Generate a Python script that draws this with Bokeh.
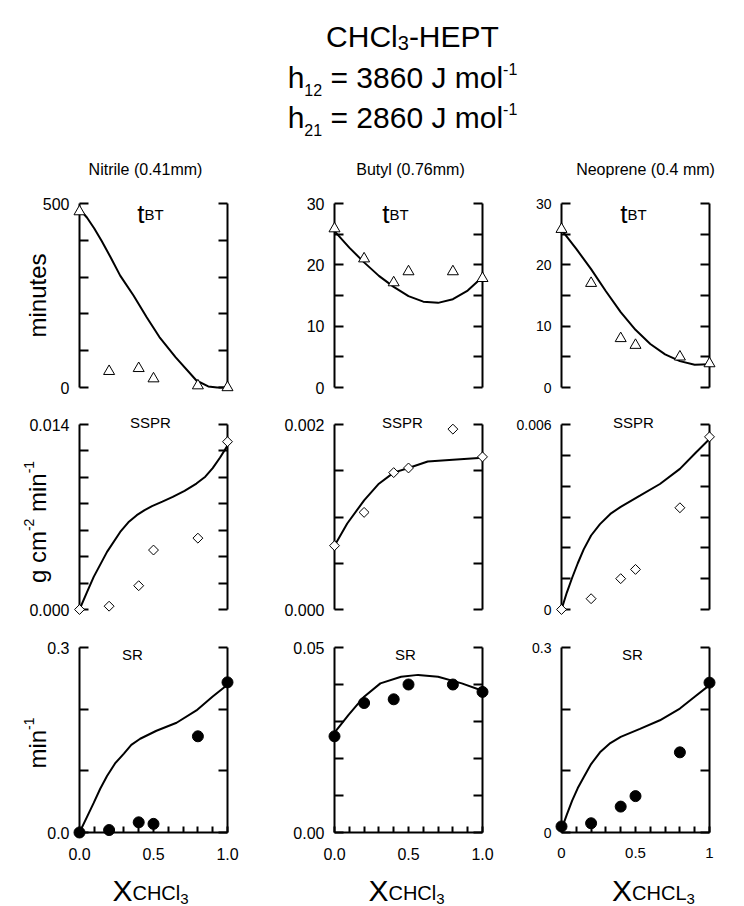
import math
from bokeh.plotting import figure
from bokeh.models import Range1d, LinearAxis, FixedTicker, CustomJSTickFormatter
from bokeh.core.properties import value
from bokeh.layouts import column, row
from bokeh.embed import file_html
from bokeh.resources import INLINE

FONT = "Liberation Sans"

# ---------------- data ----------------
x_exp = [0.0, 0.2, 0.4, 0.5, 0.8, 1.0]

tbt_nitrile = [478, 44, 52, 24, 5, 0]
tbt_butyl = [25.9, 21.0, 17.1, 18.9, 18.9, 17.8]
tbt_neoprene = [25.8, 17.0, 8.0, 6.9, 5.0, 3.9]

sspr_nitrile = [0.0, 0.00025, 0.0018, 0.0045, 0.0054, 0.0127]
sspr_butyl = [0.00069, 0.00105, 0.00148, 0.00153, 0.00195, 0.00165]
sspr_neoprene = [0.0, 0.00035, 0.0010, 0.0013, 0.0033, 0.0056]

sr_nitrile = [0.0, 0.004, 0.0165, 0.014, 0.156, 0.2435]
sr_butyl = [0.026, 0.035, 0.036, 0.040, 0.040, 0.038]
sr_neoprene = [0.0098, 0.015, 0.042, 0.059, 0.130, 0.243]

# model curves
cx_tbt_nitrile = [0, 0.05, 0.1, 0.15, 0.21, 0.275, 0.365, 0.454, 0.54, 0.65, 0.79, 0.87, 0.93, 1.0]
cy_tbt_nitrile = [485, 462, 432, 398, 354, 304, 250, 191, 137, 82, 19, 3, 0, 0]
cx_tbt_butyl = [0, 0.1, 0.2, 0.3, 0.4, 0.5, 0.6, 0.7, 0.8, 0.9, 1.0]
cy_tbt_butyl = [25.5, 22.8, 20.4, 18.2, 16.4, 14.9, 14.0, 13.8, 14.4, 15.8, 18.0]
cx_tbt_neoprene = [0, 0.1, 0.2, 0.3, 0.4, 0.5, 0.6, 0.7, 0.8, 0.9, 1.0]
cy_tbt_neoprene = [25.7, 22.6, 19.3, 15.7, 12.3, 9.4, 7.1, 5.4, 4.3, 3.7, 3.8]

cx_sspr_nitrile = [0, 0.05, 0.096, 0.186, 0.275, 0.33, 0.387, 0.44, 0.49, 0.56, 0.63, 0.71, 0.79, 0.85, 0.9, 0.95, 1.0]
cy_sspr_nitrile = [0, 0.0013, 0.00247, 0.00436, 0.00587, 0.0066, 0.00714, 0.00752, 0.00782, 0.00816, 0.00852, 0.00898, 0.00953, 0.01005, 0.0107, 0.0115, 0.0124]
cx_sspr_butyl = [0, 0.086, 0.2, 0.3, 0.4, 0.5, 0.63, 0.8, 1.0]
cy_sspr_butyl = [0.00069, 0.00093, 0.00118, 0.00136, 0.00148, 0.00153, 0.0016, 0.00162, 0.00164]
cx_sspr_neoprene = [0, 0.036, 0.072, 0.11, 0.15, 0.2, 0.26, 0.33, 0.4, 0.53, 0.665, 0.8, 0.9, 1.0]
cy_sspr_neoprene = [0, 0.00055, 0.00103, 0.0015, 0.00195, 0.0024, 0.00277, 0.0031, 0.00333, 0.00369, 0.00407, 0.00456, 0.00505, 0.00553]

cx_sr_nitrile = [0, 0.05, 0.096, 0.14, 0.186, 0.24, 0.3, 0.35, 0.41, 0.52, 0.656, 0.79, 0.9, 1.0]
cy_sr_nitrile = [0, 0.025, 0.048, 0.071, 0.0915, 0.112, 0.128, 0.142, 0.152, 0.165, 0.178, 0.198, 0.2205, 0.2397]
cx_sr_butyl = [0, 0.095, 0.2, 0.31, 0.45, 0.565, 0.7, 0.86, 1.0]
cy_sr_butyl = [0.027, 0.0318, 0.0367, 0.0403, 0.0421, 0.0426, 0.0421, 0.0403, 0.0383]
cx_sr_neoprene = [0, 0.036, 0.072, 0.11, 0.15, 0.2, 0.26, 0.33, 0.4, 0.53, 0.665, 0.8, 0.9, 1.0]
cy_sr_neoprene = [0.005, 0.029, 0.0516, 0.072, 0.0897, 0.111, 0.130, 0.145, 0.155, 0.168, 0.182, 0.201, 0.220, 0.239]

# ticks
yt_tbt_nitrile = [0, 100, 200, 300, 400, 500]
yl_tbt_nitrile = {0: "0", 500: "500"}
yt_tbt = [0, 5, 10, 15, 20, 25, 30]
yl_tbt = {0: "0", 10: "10", 20: "20", 30: "30"}
yt_sspr_nitrile = [0, 0.002, 0.004, 0.006, 0.008, 0.01, 0.012, 0.014]
yl_sspr_nitrile = {0: "0.000", 0.014: "0.014"}
yt_sspr_butyl = [0, 0.0005, 0.001, 0.0015, 0.002]
yl_sspr_butyl = {0: "0.000", 0.002: "0.002"}
yt_sspr_neoprene = [0, 0.001, 0.002, 0.003, 0.004, 0.005, 0.006]
yl_sspr_neoprene = {0: "0", 0.006: "0.006"}
yt_sr = [0, 0.1, 0.2, 0.3]
yl_sr_nitrile = {0: "0.0", 0.3: "0.3"}
yl_sr_neoprene = {0: "0", 0.3: "0.3"}
yt_sr_butyl = [0, 0.01, 0.02, 0.03, 0.04, 0.05]
yl_sr_butyl = {0: "0.00", 0.05: "0.05"}
xt = [0, 0.1, 0.2, 0.3, 0.4, 0.5, 0.6, 0.7, 0.8, 0.9, 1.0]
xl_a = {0: "0.0", 0.5: "0.5", 1.0: "1.0"}
xl_b = {0: "0", 0.5: "0.5", 1.0: "1"}

title_main = "CHCl"
title_rest = "-HEPT"
h12_text = " = 3860 J mol"
h21_text = " = 2860 J mol"
headers = ["Nitrile (0.41mm)", "Butyl (0.76mm)", "Neoprene (0.4 mm)"]

# --------------- helpers ---------------
WID = {' ': 278, '(': 333, ')': 333, '-': 333, '.': 278, '=': 584,
       'B': 667, 'C': 722, 'E': 667, 'H': 722, 'J': 500, 'L': 556, 'N': 722, 'P': 667,
       'R': 722, 'S': 667, 'T': 611, 'X': 667,
       'a': 556, 'b': 556, 'c': 500, 'e': 556, 'g': 556, 'h': 556, 'i': 222, 'l': 222,
       'm': 833, 'n': 556, 'o': 556, 'p': 556, 'r': 333, 's': 500, 't': 278, 'u': 556, 'y': 500}


def tw(s, size):
    return sum(WID.get(ch, 556) for ch in s) * size / 1000.0


def pieces(p, conv, parts, cx, base, angle=0.0):
    """Draw a run of text pieces. parts: (text, px size, shift); shift>0 lowers, <0 raises.
    conv maps a pixel offset (right, up) from an anchor to data coordinates."""
    total = sum(tw(t, s) for t, s, _ in parts)
    pos = cx - total / 2.0
    for t, s, sh in parts:
        lead = len(t) - len(t.lstrip(" "))
        txt = t.strip(" ")
        start = pos + tw(" " * lead, s)
        if angle == 0:
            xo, yo = start, base - sh
        else:
            xo, yo = base + sh, start
        xd, yd = conv(xo, yo)
        p.text(x=[xd], y=[yd], text=[txt], angle=angle,
               text_font=value(FONT), text_font_size=value(f"{s}px"),
               text_baseline="alphabetic", text_align="left",
               text_color="black", level="overlay")
        pos += tw(t, s)


def fmt(d):
    return CustomJSTickFormatter(
        args=dict(keep=list(d.keys()), txt=list(d.values())),
        code="for (let i = 0; i < keep.length; i++) {"
             " if (Math.abs(tick - keep[i]) < 1e-9) { return txt[i]; } }"
             " return '';")


def style_axis(ax, fs):
    ax.axis_line_width = 2
    ax.axis_line_color = "black"
    ax.major_tick_line_width = 2
    ax.major_tick_line_color = "black"
    ax.major_tick_out = 0
    ax.minor_tick_line_color = None
    ax.major_label_text_font = FONT
    ax.major_label_text_font_size = f"{fs}px"
    ax.major_label_text_color = "black"


COLS = [dict(width=255, left=79, right=28),
        dict(width=255, left=79, right=28),
        dict(width=234, left=51, right=35)]
ROWS = [dict(height=220, top=18, bottom=18),
        dict(height=224, top=19, bottom=20),
        dict(height=277, top=18, bottom=74)]


def panel(r, c, ymax, yticks, ylabels, xs, ys, cxs, cys, kind, title, title_off,
          ylab=None, xlab=None, xlab_off=0, xlabels=None):
    cc, rr = COLS[c], ROWS[r]
    fw = cc["width"] - cc["left"] - cc["right"]
    fh = rr["height"] - rr["top"] - rr["bottom"]
    fs = 16 if c < 2 else 14
    p = figure(width=cc["width"], height=rr["height"],
               min_border_left=cc["left"], min_border_right=cc["right"],
               min_border_top=rr["top"], min_border_bottom=rr["bottom"],
               x_range=Range1d(0, 1), y_range=Range1d(0, ymax),
               x_axis_location=None, y_axis_location=None,
               toolbar_location=None, output_backend="svg")
    p.xgrid.visible = False
    p.ygrid.visible = False
    p.outline_line_color = None
    p.background_fill_color = "white"
    p.border_fill_color = "white"

    yl = LinearAxis(ticker=FixedTicker(ticks=yticks), formatter=fmt(ylabels))
    style_axis(yl, fs)
    yl.major_tick_in = 9
    yl.major_label_standoff = 10
    p.add_layout(yl, "left")
    yr = LinearAxis(ticker=FixedTicker(ticks=yticks), formatter=fmt({}))
    style_axis(yr, 1)
    yr.major_label_text_font_size = "0px"
    yr.major_tick_in = 9
    yr.major_label_standoff = 0
    p.add_layout(yr, "right")

    if xlabels is not None:
        xa = LinearAxis(ticker=FixedTicker(ticks=xt), formatter=fmt(xlabels))
        style_axis(xa, 16 if c < 2 else 15)
        xa.major_tick_in = 6
        xa.major_label_standoff = 15
        p.add_layout(xa, "below")

    p.line(cxs, cys, line_color="black", line_width=2, level="overlay")
    if kind == "tri":
        p.scatter(xs, ys, marker="triangle", size=11, fill_color="white",
                  line_color="black", line_width=1, level="overlay")
    elif kind == "dia":
        p.scatter(xs, ys, marker="square", angle=math.pi / 4, size=7, fill_color="white",
                  line_color="black", line_width=1, level="overlay")
    else:
        p.scatter(xs, ys, marker="circle", size=11, fill_color="black",
                  line_color="black", level="overlay")

    top = lambda xo, yo: (xo / fw, ymax + yo * ymax / fh)
    bot = lambda xo, yo: (xo / fw, yo * ymax / fh)

    if title == "tBT":
        pieces(p, top, [("t", 26, 0), ("BT", 15, 1)], fw / 2 + title_off, -10)
    elif title == "SSPR":
        pieces(p, top, [("SSPR", 15, 0)], fw / 2 + title_off, 2)
    else:
        pieces(p, top, [("SR", 15, 0)], fw / 2 + title_off, -7)

    if ylab is not None:
        pieces(p, bot, ylab[0], fh / 2 + ylab[1], -42, angle=math.pi / 2)
    if xlab is not None:
        pieces(p, bot, [("X", 30, 0), (xlab, 20, 2), ("3", 15, 8)], fw / 2 + xlab_off, -58)
    return p


# --------------- header ---------------
hdr = figure(width=744, height=185, x_range=Range1d(0, 744), y_range=Range1d(0, 185),
             min_border=0, x_axis_location=None, y_axis_location=None,
             toolbar_location=None, output_backend="svg")
hdr.xgrid.visible = False
hdr.ygrid.visible = False
hdr.outline_line_color = None
hconv = lambda xo, yo: (xo, 185 + yo)

pieces(hdr, hconv, [(title_main, 30, 0), ("3", 20, 6), (title_rest, 30, 0)], 412, -36)
pieces(hdr, hconv, [("h", 30, 0), ("12", 16, 12), (h12_text, 30, 0), ("-1", 16, -9)], 402, -77)
pieces(hdr, hconv, [("h", 30, 0), ("21", 16, 12), (h21_text, 30, 0), ("-1", 16, -9)], 402, -117)
for name, cxh in zip(headers, [145, 410, 645]):
    pieces(hdr, hconv, [(name, 16, 0)], cxh, -169)

# --------------- panels ---------------
p11 = panel(0, 0, 500, yt_tbt_nitrile, yl_tbt_nitrile, x_exp, tbt_nitrile,
            cx_tbt_nitrile, cy_tbt_nitrile, "tri", "tBT", -3,
            ylab=([("minutes", 24, 0)], 0))
p12 = panel(0, 1, 30, yt_tbt, yl_tbt, x_exp, tbt_butyl,
            cx_tbt_butyl, cy_tbt_butyl, "tri", "tBT", -13)
p13 = panel(0, 2, 30, yt_tbt, yl_tbt, x_exp, tbt_neoprene,
            cx_tbt_neoprene, cy_tbt_neoprene, "tri", "tBT", -2)

p21 = panel(1, 0, 0.014, yt_sspr_nitrile, yl_sspr_nitrile, x_exp, sspr_nitrile,
            cx_sspr_nitrile, cy_sspr_nitrile, "dia", "SSPR", -3,
            ylab=([("g cm", 24, 0), ("-2", 14, -9), (" min", 24, 0), ("-1", 14, -9)], -5))
p22 = panel(1, 1, 0.002, yt_sspr_butyl, yl_sspr_butyl, x_exp, sspr_butyl,
            cx_sspr_butyl, cy_sspr_butyl, "dia", "SSPR", -6)
p23 = panel(1, 2, 0.006, yt_sspr_neoprene, yl_sspr_neoprene, x_exp, sspr_neoprene,
            cx_sspr_neoprene, cy_sspr_neoprene, "dia", "SSPR", -2)

p31 = panel(2, 0, 0.3, yt_sr, yl_sr_nitrile, x_exp, sr_nitrile,
            cx_sr_nitrile, cy_sr_nitrile, "dot", "SR", -21,
            ylab=([("min", 24, 0), ("-1", 14, -9)], -3),
            xlab="CHCl", xlab_off=-3, xlabels=xl_a)
p32 = panel(2, 1, 0.05, yt_sr_butyl, yl_sr_butyl, x_exp, sr_butyl,
            cx_sr_butyl, cy_sr_butyl, "dot", "SR", -3,
            xlab="CHCl", xlab_off=-2, xlabels=xl_a)
p33 = panel(2, 2, 0.3, yt_sr, yl_sr_neoprene, x_exp, sr_neoprene,
            cx_sr_neoprene, cy_sr_neoprene, "dot", "SR", -3,
            xlab="CHCL", xlab_off=18, xlabels=xl_b)

layout = column(hdr, row(p11, p12, p13), row(p21, p22, p23), row(p31, p32, p33))

open("out.html", "w").write(file_html(layout, INLINE))
